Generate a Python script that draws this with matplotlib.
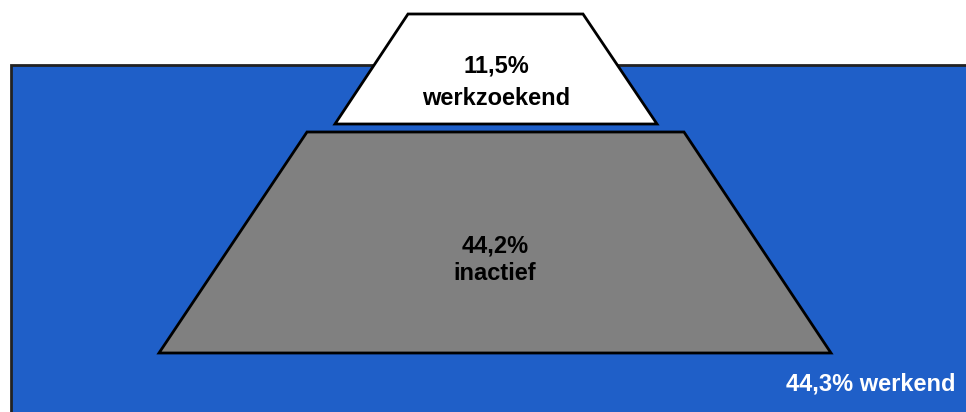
import matplotlib
matplotlib.use("Agg")
import matplotlib.pyplot as plt
from matplotlib.patches import Polygon, Rectangle

# shares shown in the iceberg
labels = ["werkzoekend", "inactief", "werkend"]
shares = [11.5, 44.2, 44.3]

BLUE = "#1f5fc8"
GRAY = "#808080"

plt.rcParams["font.family"] = ["Liberation Sans", "DejaVu Sans"]

fig = plt.figure(figsize=(9.66, 4.12), dpi=100)
ax = fig.add_axes([0, 0, 1, 1])
ax.set_xlim(0, 966)
ax.set_ylim(412, 0)
ax.axis("off")

# water
ax.add_patch(Rectangle((11, 65), 970, 360, facecolor=BLUE,
                       edgecolor="#222222", lw=2))

# tip above the water (werkzoekend)
tip = [(408, 14), (583, 14), (657, 124), (335, 124)]
ax.add_patch(Polygon(tip, closed=True, facecolor="white",
                     edgecolor="black", lw=2, joinstyle="miter"))

# submerged part (inactief)
body = [(307, 132), (684, 132), (831, 353), (159, 353)]
ax.add_patch(Polygon(body, closed=True, facecolor=GRAY,
                     edgecolor="black", lw=2, joinstyle="miter"))

def pct(v):
    return f"{v:.1f}".replace(".", ",") + "%"

kw = dict(fontsize=17, fontweight="bold", ha="center", va="baseline")
ax.text(496, 72, pct(shares[0]), color="black", **kw)
ax.text(496, 105, labels[0], color="black", **kw)
ax.text(495, 252, pct(shares[1]), color="black", **kw)
ax.text(495, 280, labels[1], color="black", **kw)
ax.text(871, 390, f"{pct(shares[2])} {labels[2]}", color="white", **kw)

fig.savefig("out.png", dpi=100)
